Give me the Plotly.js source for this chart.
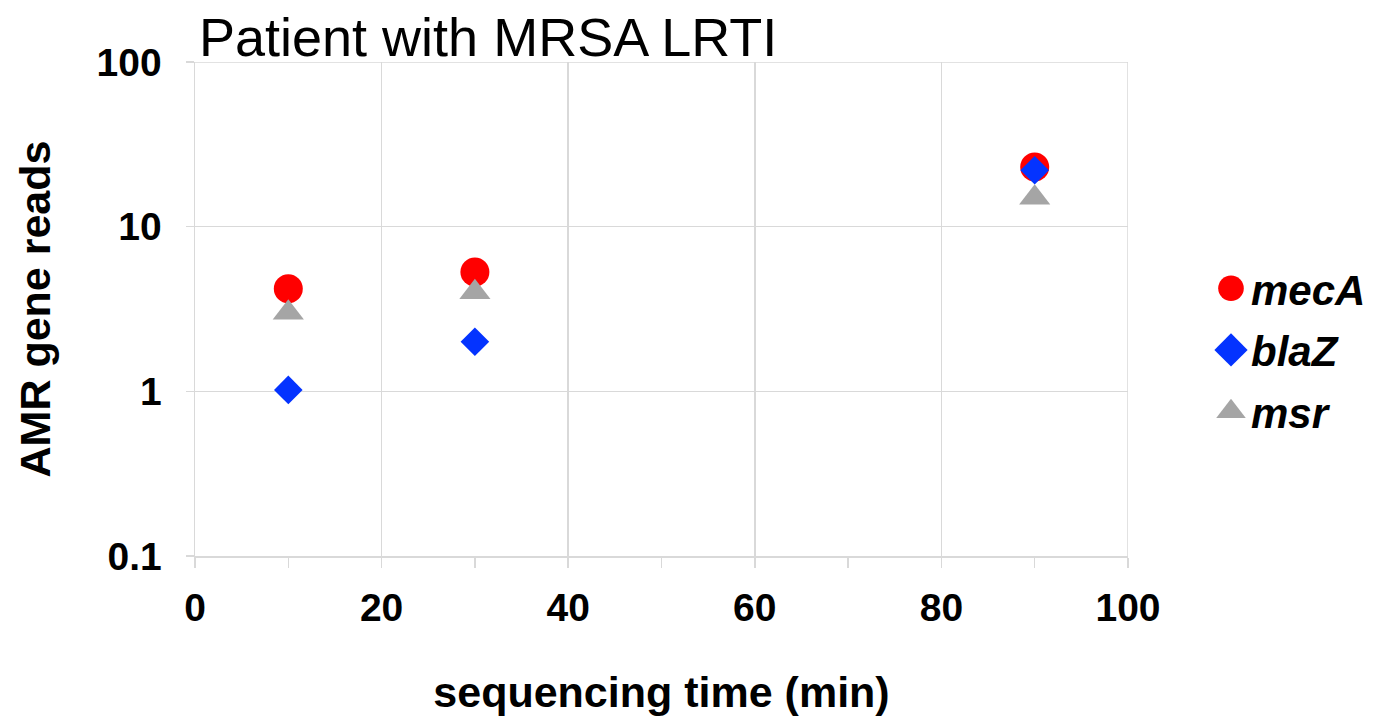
<!DOCTYPE html>
<html>
<head>
<meta charset="utf-8">
<script src="https://cdn.plot.ly/plotly-3.0.1.min.js"></script>
<style>html,body{margin:0;padding:0;background:#fff;}#chart{width:1374px;height:720px;}</style>
</head>
<body>
<div id="chart"></div>
<script>
const times = [10, 30, 90];
const mecA = [4.2, 5.3, 23];
const blaZ = [1.02, 2, 22];
const msr = [3, 4, 15];
const seriesNames = ['mecA', 'blaZ', 'msr'];

const FONT = 'Liberation Sans, Arial, Helvetica, sans-serif';

const traces = [
  {x: times, y: mecA, name: '<b><i>' + seriesNames[0] + '</i></b>', mode: 'markers', type: 'scatter',
   legendgroup: 'a', marker: {symbol: 'circle', size: 29, color: '#ff0000'}},
  {x: times, y: msr, name: '<b><i>' + seriesNames[2] + '</i></b>', mode: 'markers', type: 'scatter',
   legendgroup: 'c', marker: {symbol: 'triangle-up', size: 27, color: '#a5a5a5'}, showlegend: false},
  {x: times, y: blaZ, name: '<b><i>' + seriesNames[1] + '</i></b>', mode: 'markers', type: 'scatter',
   legendgroup: 'b', marker: {symbol: 'diamond', size: 22, color: '#0433ff'}},
  {x: [null], y: [null], name: '<b><i>' + seriesNames[2] + '</i></b>', mode: 'markers', type: 'scatter',
   legendgroup: 'c', marker: {symbol: 'triangle-up', size: 27, color: '#a5a5a5'}}
];

const layout = {
  width: 1374, height: 720,
  margin: {l: 195, r: 246, t: 62, b: 164},
  paper_bgcolor: '#fff', plot_bgcolor: '#fff',
  font: {family: FONT, color: '#000'},
  title: {text: 'Patient with MRSA LRTI', x: 199/1374, xanchor: 'left', xref: 'container',
          y: 1 - 37/720, yanchor: 'middle', yref: 'container',
          font: {size: 54, family: FONT, color: '#000'}},
  xaxis: {range: [0, 100], dtick: 20, tick0: 0, showgrid: true, gridcolor: '#d9d9d9', gridwidth: 1.5,
          zeroline: false, showline: true, linecolor: '#d9d9d9', linewidth: 1.5, mirror: false,
          ticks: 'outside', ticklen: 10, tickcolor: '#d9d9d9', tickwidth: 1.5,
          minor: {dtick: 10, ticks: 'outside', ticklen: 10, tickcolor: '#d9d9d9', tickwidth: 1.5, showgrid: false},
          ticklabelstandoff: 7,
          tickfont: {size: 39, family: FONT, weight: 'bold', color: '#000'},
          title: {text: '<b>sequencing time (min)</b>', font: {size: 43, family: FONT, color: '#000'}, standoff: 48}},
  yaxis: {type: 'log', range: [-1, 2], tickvals: [0.1, 1, 10, 100], ticktext: ['<b>0.1</b>', '<b>1</b>', '<b>10</b>', '<b>100</b>'],
          showgrid: true, gridcolor: '#d9d9d9', gridwidth: 1.5, zeroline: false,
          showline: true, linecolor: '#d9d9d9', linewidth: 1.5,
          ticks: 'outside', ticklen: 8, tickcolor: '#d9d9d9', tickwidth: 1.5,
          ticklabelstandoff: 16,
          tickfont: {size: 39, family: FONT, color: '#000'},
          title: {text: '<b>AMR gene reads</b>', font: {size: 43, family: FONT, color: '#000'}, standoff: 32}},
  showlegend: true,
  legend: {xref: 'container', yref: 'container', x: 1211/1374, xanchor: 'left', y: 1 - 350/720, yanchor: 'middle',
           traceorder: 'grouped', tracegroupgap: 4,
           font: {size: 42, family: FONT, color: '#000'}, bgcolor: 'rgba(0,0,0,0)', itemwidth: 30},
  shapes: [
    {type: 'line', xref: 'x', yref: 'paper', x0: 100, x1: 100, y0: 0, y1: 1, line: {color: '#d9d9d9', width: 1.5}},
    {type: 'line', xref: 'paper', yref: 'y', x0: 0, x1: 1, y0: 100, y1: 100, line: {color: '#d9d9d9', width: 1.5}}
  ]
};

Plotly.newPlot('chart', traces, layout, {displayModeBar: false, staticPlot: true}).then(function (gd) {
  // enlarge legend symbols to match the plotted marker size
  gd.querySelectorAll('.legend .legendpoints path.scatterpts').forEach(function (p) {
    const t = p.getAttribute('transform') || '';
    p.setAttribute('transform', t + ' scale(1.6)');
  });
});
</script>
</body>
</html>
